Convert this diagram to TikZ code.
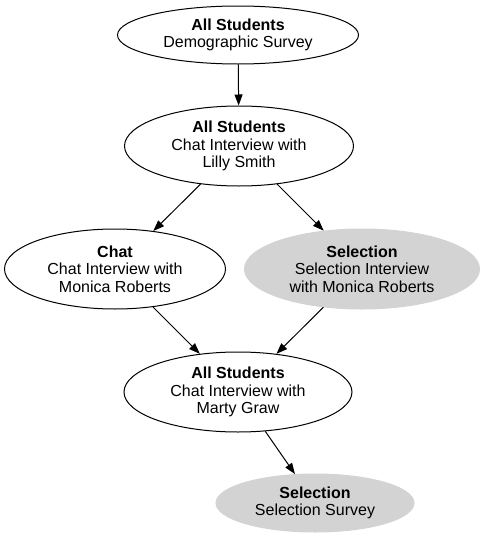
\documentclass[tikz,border=0pt]{standalone}
\usepackage{fontspec}
\setmainfont{Liberation Sans}
\setsansfont{Liberation Sans}
\usetikzlibrary{arrows.meta,shapes.geometric}
\definecolor{selectionColor}{HTML}{D3D3D3}
\begin{document}
\begin{tikzpicture}[%
    x=1pt,y=-1pt,>={Triangle[length=11pt,width=8pt]},align=center,%
    every node/.style={font=\sffamily\fontsize{16}{17.5}\selectfont}]
    \tikzstyle{state}=[ellipse,draw=black,line width=1pt,fill=white,%
      inner sep=0pt,minimum width=230pt,minimum height=80pt]
    % All state styles
    \tikzstyle{allStudents}=[state]
    \tikzstyle{chat}=[state]
    \tikzstyle{selection}=[state,fill=selectionColor,draw=selectionColor]
    \tikzstyle{edge}=[->,line width=1pt]
    \useasboundingbox (0,0) rectangle (484,538);
    % All states
    \node (demoSurvey) [allStudents,minimum width=241pt,minimum height=58pt] at (238,35)
      {\textbf{All Students}\\Demographic Survey};
    \node (lillySmith) [allStudents,minimum width=229pt] at (239,146)
      {\textbf{All Students}\\Chat Interview with\\Lilly Smith};
    \node (chatMonica) [chat,minimum width=221pt] at (115,269)
      {\textbf{Chat}\\Chat Interview with\\Monica Roberts};
    \node (selMonica) [selection,minimum width=235pt] at (362,269)
      {\textbf{Selection}\\Selection Interview\\with Monica Roberts};
    \node (martyGraw) [allStudents,minimum width=228pt] at (238,392)
      {\textbf{All Students}\\Chat Interview with\\Marty Graw};
    \node (selSurvey) [selection,minimum width=198pt,minimum height=58pt] at (315,503)
      {\textbf{Selection}\\Selection Survey};
    % Edges
    \draw [edge] (demoSurvey) -- (lillySmith);
    \draw [edge] (lillySmith) -- (chatMonica);
    \draw [edge] (lillySmith) -- (selMonica);
    \draw [edge] (chatMonica) -- (martyGraw);
    \draw [edge] (selMonica) -- (martyGraw);
    \draw [edge] (martyGraw) -- (selSurvey);
  \end{tikzpicture}
\end{document}
